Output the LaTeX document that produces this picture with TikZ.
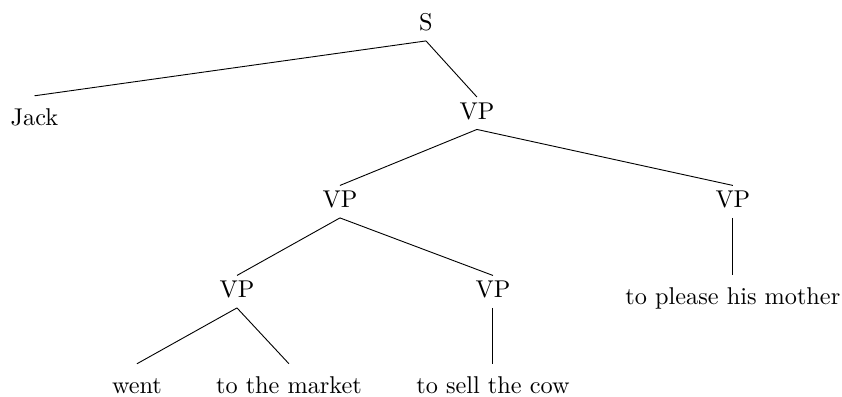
\documentclass[tikz,border=0pt]{standalone}
\begin{document}
\begin{tikzpicture}[every node/.style={anchor=base,font=\fontsize{10.7}{13}\selectfont},
  phrase/.style={inner ysep=2.4pt,text depth=1.8pt},
  leaf/.style={inner ysep=2.4pt,text height=10.7pt}]
  \useasboundingbox (0,0) rectangle (13.04,6.147);
  % phrase labels
  \node[phrase] (s)   at (6.597,5.668) {S};
  \node[phrase] (vp)  at (7.386,4.297) {VP};
  \node[phrase] (vpa) at (5.265,2.927) {VP};
  \node[phrase] (vpb) at (11.35,2.927) {VP};
  \node[phrase] (vpc) at (3.670,1.533) {VP};
  \node[phrase] (vpd) at (7.634,1.533) {VP};
  % words
  \node[leaf] (jack)   at (0.534,4.196) {Jack};
  \node[leaf] (mother) at (11.35,1.425) {to please his mother};
  \node[leaf] (went)   at (2.121,0.046) {went};
  \node[leaf] (market) at (4.475,0.046) {to the market};
  \node[leaf] (cow)    at (7.634,0.046) {to sell the cow};
  \foreach \p/\c in {s/jack,s/vp,vp/vpa,vp/vpb,vpb/mother,vpa/vpc,vpa/vpd,vpc/went,vpc/market,vpd/cow}
    \draw (\p.south) -- (\c.north);
\end{tikzpicture}
\end{document}
